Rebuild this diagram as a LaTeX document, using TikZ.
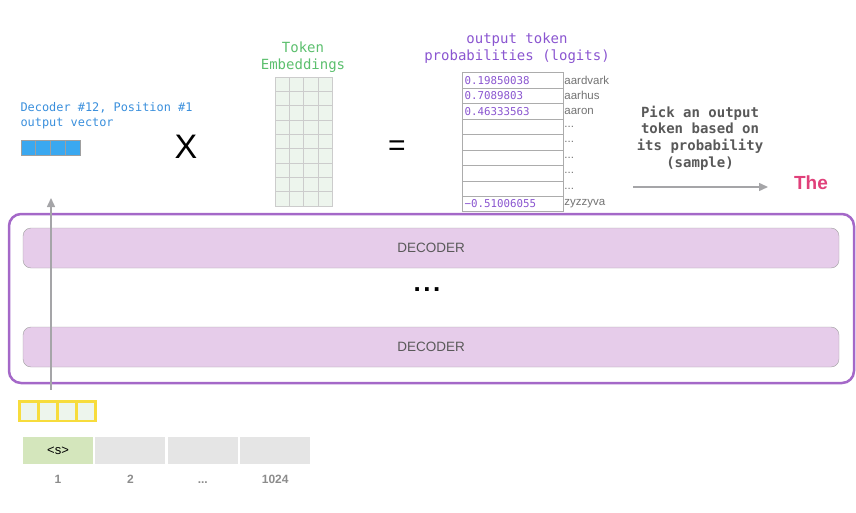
\documentclass[tikz,border=0pt]{standalone}
\usepackage{fontspec}
\setmainfont{Liberation Sans}
\setmonofont{DejaVu Sans Mono}
\usepackage{xcolor}
\usetikzlibrary{arrows.meta, positioning}

\definecolor{stackpurple}{HTML}{A468C8}
\definecolor{decfill}{HTML}{E6CCEA}
\definecolor{embfill}{HTML}{EDF5ED}
\definecolor{vecblue}{HTML}{3AA8F0}
\definecolor{ingold}{HTML}{F7DC3C}
\definecolor{tokgreen}{HTML}{D4E6BC}
\definecolor{tokgray}{HTML}{E5E5E5}
\definecolor{bluetext}{HTML}{3A8FDC}
\definecolor{greentext}{HTML}{5CBF6E}
\definecolor{logitpurple}{HTML}{8A55D0}
\definecolor{thepink}{HTML}{E0407A}
\definecolor{arrowgray}{HTML}{A5A5A8}
\newcommand{\wdots}{...}

\begin{document}
\begin{tikzpicture}[
    x=1pt, y=-1pt,
    decoder/.style={draw=gray!75, fill=decfill, rounded corners=8pt, minimum width=816pt, minimum height=40pt, font=\fontsize{13.5}{15}\selectfont, text=black!65},
    stack/.style={draw=stackpurple, line width=2.5pt, rounded corners=12pt, minimum width=845pt, minimum height=169pt},
    vcell/.style={draw=gray!75, fill=vecblue, minimum width=14.75pt, minimum height=15pt, inner sep=0pt, line width=0.8pt},
    incell/.style={draw=ingold, fill=embfill, line width=2.5pt, minimum width=19pt, minimum height=19.5pt, inner sep=0pt},
    embcell/.style={draw=gray!40, fill=embfill, minimum width=14.25pt, minimum height=14.33pt, inner sep=0pt},
    tabcell/.style={draw=gray!65, fill=white, text width=96pt, inner xsep=2.5pt, inner ysep=0pt, minimum height=15.44pt, align=left, font=\ttfamily\fontsize{10.8}{12}\selectfont, text=logitpurple},
    wordlbl/.style={inner sep=1pt, font=\fontsize{11.5}{13}\selectfont, text=black!55},
    tokbox/.style={minimum width=70pt, minimum height=27pt, inner sep=0pt, fill=tokgray, font=\fontsize{13}{14}\selectfont},
    poslbl/.style={inner sep=1pt, text height=9pt, text depth=0pt, font=\bfseries\fontsize{12}{14}\selectfont, text=black!45},
    title/.style={align=center, font=\ttfamily\fontsize{14}{17}\selectfont},
    garrow/.style={draw=arrowgray, line width=1.5pt, -{Triangle[length=9pt, width=8pt]}}
]
\useasboundingbox (0,0) rectangle (856,513);

% Decoder stack
\node (stk) [stack] at (431.5,298.5) {};
\node (dec1) [decoder] at (431,248) {DECODER};
\node (dec2) [decoder] at (431,347) {DECODER};
\node (more) at (427,290) {\fontsize{26}{26}\bfseries .\hspace{2.5pt}.\hspace{2.5pt}.};

% Input side
\foreach \i in {0,...,3}
  \node (ic\i) [incell] at (28.75+19*\i,411) {};
\node (tok1) [tokbox, fill=tokgreen] at (58,450.5) {<s>};
\node (tok2) [tokbox, right=2pt of tok1] {};
\node (tok3) [tokbox, right=2pt of tok2] {};
\node (tok4) [tokbox, right=2pt of tok3] {};
\node (pos1) [poslbl, below=9pt of tok1] {1};
\node (pos2) [poslbl, below=9pt of tok2] {2};
\node (pos3) [poslbl, below=9pt of tok3] {...};
\node (pos4) [poslbl, below=9pt of tok4] {1024};

% Output vector
\node (outlbl) [title, align=left, anchor=west, text=bluetext, font=\ttfamily\fontsize{11.9}{15}\selectfont] at (17,115.5) {Decoder \#12, Position \#1\\output vector};
\foreach \i in {0,...,3}
  \node (ov\i) [vcell] at (28.4+14.75*\i,147.5) {};
\node (times) [font=\fontsize{34}{34}\selectfont] at (186,147) {X};

% Embeddings
\node (embttl) [title, text=greentext] at (303,57) {Token\\Embeddings};
\foreach \r in {0,...,8}
  \foreach \c in {0,...,3}
    \node (e\r\c) [embcell] at (282.1+14.25*\c,84.2+14.33*\r) {};
\node (equals) [font=\fontsize{30}{30}\selectfont] at (397,148) {=};

% Logits table
\node (logttl) [title, text=logitpurple] at (517,48) {output token\\probabilities (logits)};
\foreach \v/\w [count=\r from 0] in {0.19850038/aardvark, 0.7089803/aarhus, 0.46333563/aaron, {}/\wdots, {}/\wdots, {}/\wdots, {}/\wdots, {}/\wdots, −0.51006055/zyzzyva}
{
  \node (lg\r) [tabcell] at (512.5,80.42+15.44*\r) {\v};
  \node (wd\r) [wordlbl, right=0pt of lg\r] {\w};
}

% Sampling
\node (pick) [title, font=\ttfamily\bfseries\fontsize{14}{16.8}\selectfont, text=black!65] at (700,138) {Pick an output\\token based on\\its probability\\(sample)};
\node (the) [font=\bfseries\fontsize{19}{19}\selectfont, text=thepink] at (811,183) {The};
\coordinate (pickstart) at (633,187);
\coordinate (pickend) at (768,187);
\coordinate (risebot) at (51,390);
\coordinate (risetop) at (51,198);

% Paths
\draw [garrow] (risebot) -- (risetop);
\draw [garrow] (pickstart) -- (pickend);

\end{tikzpicture}
\end{document}
